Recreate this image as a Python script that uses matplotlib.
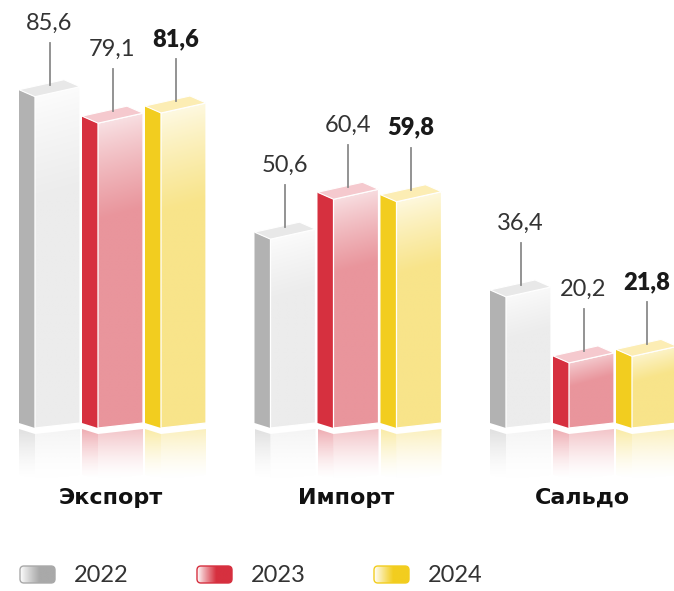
import numpy as np
import matplotlib
matplotlib.use("Agg")
import matplotlib.pyplot as plt
from matplotlib.patches import Polygon, FancyBboxPatch
from matplotlib.colors import to_rgb

# data
categories = ["Экспорт", "Импорт", "Сальдо"]
years = ["2022", "2023", "2024"]
values_2022 = [85.6, 50.6, 36.4]
values_2023 = [79.1, 60.4, 20.2]
values_2024 = [81.6, 59.8, 21.8]
series = [values_2022, values_2023, values_2024]

# styles: side, front top, front bottom, top face, legend colour, bold label
styles = [
    dict(side="#b2b2b2", ftop="#ffffff", fbot="#ececec", top="#e8e8e8", leg="#a9a9a9", bold=False),
    dict(side="#d6303f", ftop="#fbeef0", fbot="#e9959c", top="#f5c9ce", leg="#d6303f", bold=False),
    dict(side="#f2cd1f", ftop="#fffdf2", fbot="#f8e48a", top="#fcedb4", leg="#f2cd1f", bold=True),
]

W, H = 674, 591
BASE = 4.2          # value at the foot of the bars
PXU = 1 / 4.07      # value units per pixel
V_MAX = BASE + 428 * PXU
V_MIN = V_MAX - H * PXU

fig = plt.figure(figsize=(W / 100, H / 100), dpi=100)
ax = fig.add_axes([0, 0, 1, 1])
ax.set_xlim(0, W)
ax.set_ylim(V_MIN, V_MAX)
ax.axis("off")

# overlay in pixel coords for text and legend
ax2 = fig.add_axes([0, 0, 1, 1])
ax2.set_xlim(0, W)
ax2.set_ylim(H, 0)
ax2.axis("off")
ax2.patch.set_alpha(0)

FONT = ["Lato", "DejaVu Sans"]
CAT_FONT = ["DejaVu Sans"]


def gradient_fill(axis, verts, img, extent, z):
    poly = Polygon(verts, closed=True, fill=False, lw=0, zorder=z)
    axis.add_patch(poly)
    im = axis.imshow(img, extent=extent, origin="upper", aspect="auto",
                     interpolation="bilinear", zorder=z)
    im.set_clip_path(poly)
    return im


def front_image(st, height_px, nx=40, ny=200):
    top = np.array(to_rgb(st["ftop"]))
    bot = np.array(to_rgb(st["fbot"]))
    yy, xx = np.mgrid[0:ny, 0:nx]
    dist = yy / (ny - 1) * height_px + xx / (nx - 1) * 12.0
    ramp = 0.3 * height_px + 12
    w = np.clip(dist / ramp, 0, 1) ** 0.8
    return top[None, None, :] * (1 - w[..., None]) + bot[None, None, :] * w[..., None]


def fade_image(color, alpha0, ny=60):
    rgb = np.array(to_rgb(color))
    img = np.zeros((ny, 2, 4))
    img[..., :3] = rgb
    a = alpha0 * (1 - np.linspace(0, 1, ny)) ** 1.5
    img[..., 3] = a[:, None]
    return img


SIDE_W, FRONT_W = 16, 45
GROUP_STEP, BAR_STEP, X0 = 235.5, 63, 19
GAP, REFL = 6, 46

for g, cat in enumerate(categories):
    for j, vals in enumerate(series):
        st = styles[j]
        v = vals[g]
        x0 = X0 + g * GROUP_STEP + j * BAR_STEP
        c = x0 + SIDE_W
        xr = c + FRONT_W
        hp = (v - BASE) / PXU

        side = [(x0, BASE + 5 * PXU), (c, BASE), (c, v), (x0, v + 7 * PXU)]
        front = [(c, BASE), (xr, BASE + 5 * PXU), (xr, v + 10 * PXU), (c, v)]
        topf = [(c, v), (x0, v + 7 * PXU), (x0 + FRONT_W, v + 17 * PXU), (xr, v + 10 * PXU)]

        ax.add_patch(Polygon(side, closed=True, fc=st["side"], ec="none", zorder=3))
        gradient_fill(ax, front, front_image(st, hp + 10),
                      (c, xr, BASE, v + 10 * PXU), 3)
        ax.add_patch(Polygon(front, closed=True, fill=False, ec="white", lw=0.9, zorder=4))
        ax.add_patch(Polygon(topf, closed=True, fc=st["top"], ec="white", lw=0.8, zorder=4))

        # reflection
        rs = [(x0, BASE + (5 - GAP) * PXU), (c, BASE - GAP * PXU),
              (c, BASE - (GAP + REFL) * PXU), (x0, BASE + (5 - GAP - REFL) * PXU)]
        rf = [(c, BASE - GAP * PXU), (xr, BASE + (5 - GAP) * PXU),
              (xr, BASE + (5 - GAP - REFL) * PXU), (c, BASE - (GAP + REFL) * PXU)]
        ext = (x0, xr, BASE - (GAP + REFL) * PXU, BASE + (5 - GAP) * PXU)
        gradient_fill(ax, rs, fade_image(st["side"], 0.4), ext, 2)
        gradient_fill(ax, rf, fade_image(st["fbot"], 0.55), ext, 2)

        # leader line + value label
        xm = (x0 + xr) / 2
        ax.plot([xm, xm], [v + 12 * PXU, v + 54 * PXU], color="#8a8a8a", lw=1.3, zorder=5)
        ax.text(xm, v + 67 * PXU, f"{v:.1f}".replace(".", ","),
                ha="center", va="baseline", fontsize=17, family=FONT,
                fontweight="heavy" if st["bold"] else "normal",
                color="#1a1a1a" if st["bold"] else "#333333", zorder=6)

    ax2.text(X0 + g * GROUP_STEP + 92, 498, cat, ha="center", va="center",
             fontsize=16, fontweight="bold", family=CAT_FONT, color="#111111")

# legend
for j, yr in enumerate(years):
    st = styles[j]
    lx = 20 + j * 177
    box = FancyBboxPatch((lx, 566), 35, 17, boxstyle="round,pad=0,rounding_size=4",
                         fc="none", ec=st["leg"], lw=1.0, zorder=6)
    ax2.add_patch(box)
    col = np.array(to_rgb(st["leg"]))
    t = np.clip(np.linspace(0, 1, 60) / 0.55, 0, 1) ** 0.9
    img = np.ones((2, 60, 3)) * (1 - t[None, :, None]) + col[None, None, :] * t[None, :, None]
    im = ax2.imshow(img, extent=(lx, lx + 35, 583, 566), aspect="auto",
                    interpolation="bilinear", zorder=5)
    im.set_clip_path(box)
    ax2.text(lx + 54, 575, yr, ha="left", va="center", fontsize=17,
             fontweight="normal", family=FONT, color="#333333")

fig.savefig("out.png", dpi=100)
